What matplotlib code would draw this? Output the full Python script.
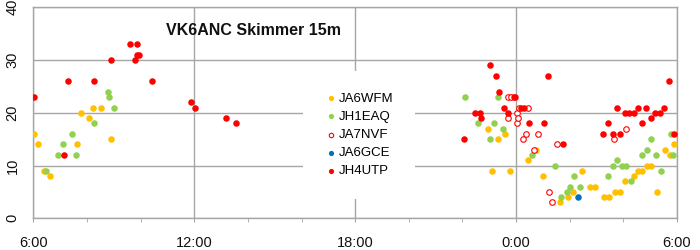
import matplotlib
matplotlib.use("Agg")
import matplotlib.pyplot as plt

plt.rcParams['font.family'] = ['Liberation Sans', 'DejaVu Sans']

# ---- data: times (HH:MM, from 6:00 through the night to 6:00) and SNR in dB ----
ja6wfm_t = ["6:02", "6:10", "6:24", "6:37", "7:37", "7:46", "8:05", "8:14", "8:31", "8:54",
            "22:57", "23:07", "23:19", "23:36", "23:47", "0:26", "0:44", "1:01", "1:38", "1:57",
            "2:07", "2:27", "2:46", "2:56", "3:17", "3:27", "3:41", "3:52", "4:04", "4:24",
            "4:32", "4:41", "4:52", "5:02", "5:15", "5:33", "5:44", "5:54"]
ja6wfm_v = [16, 14, 9, 8, 14, 20, 19, 21, 21, 15,
            17, 9, 15, 16, 9, 11, 13, 8, 3, 4,
            5, 9, 6, 6, 4, 4, 5, 5, 7, 8,
            9, 9, 10, 10, 5, 13, 12, 14]

jh1eaq_t = ["6:28", "6:56", "7:07", "7:26", "7:35", "8:16", "8:47", "8:49", "9:01",
            "22:05", "22:35", "23:01", "23:10", "23:20", "23:30", "0:35", "1:27", "1:41", "1:54",
            "2:01", "2:10", "2:23", "3:26", "3:37", "3:46", "3:57", "4:07", "4:16", "4:42",
            "4:52", "5:02", "5:12", "5:25", "5:46", "5:50"]
jh1eaq_v = [9, 12, 14, 16, 12, 18, 24, 23, 21,
            23, 18, 15, 18, 23, 17, 12, 10, 4, 5,
            6, 8, 6, 8, 10, 11, 10, 10, 7, 12,
            13, 15, 12, 9, 16, 12]

ja7nvf_t = ["23:42", "23:43", "23:49", "0:01", "0:03", "0:05", "0:07", "0:15", "0:22", "0:26",
            "0:40", "0:50", "1:14", "1:20", "1:31", "3:38", "4:05"]
ja7nvf_v = [19, 23, 23, 20, 18, 19, 21, 15, 16, 21,
            13, 16, 5, 3, 14, 15, 17]

ja6gce_t = ["2:19"]
ja6gce_v = [4]

jh4utp_t = ["6:02", "7:09", "7:18", "8:16", "8:53", "9:36", "9:47", "9:51", "9:53", "9:57",
            "10:25", "11:52", "12:01", "13:11", "13:33",
            "22:04", "22:28", "22:40", "22:42", "23:02", "23:14", "23:21", "23:32", "23:41", "23:55",
            "23:58", "0:12", "0:17", "0:28", "1:03", "1:12", "1:46", "3:14", "3:26", "3:37",
            "3:46", "3:52", "4:03", "4:13", "4:24", "4:33", "4:41", "4:50", "5:01", "5:11",
            "5:21", "5:31", "5:43", "5:53"]
jh4utp_v = [23, 12, 26, 26, 30, 33, 30, 33, 31, 31,
            26, 22, 21, 19, 18,
            15, 20, 20, 19, 29, 27, 24, 21, 20, 23,
            23, 21, 21, 18, 18, 27, 14, 16, 18, 16,
            21, 16, 20, 20, 20, 21, 18, 21, 19, 20,
            20, 21, 26, 16]

x_tick_labels = ["6:00", "12:00", "18:00", "0:00", "6:00"]
y_ticks = [0, 10, 20, 30, 40]
title = "VK6ANC Skimmer 15m"


def to_hours(times):
    out = []
    for s in times:
        h, m = s.split(":")
        out.append((int(h) + int(m) / 60.0 - 6.0) % 24.0)
    return out


fig = plt.figure(figsize=(7, 2.5), dpi=100)
ax = fig.add_axes([33.3 / 700, 31.7 / 250, 643.7 / 700, 211 / 250])

grid_c = "#a6a6a6"
ms = 22
ax.scatter(to_hours(ja6wfm_t), ja6wfm_v, s=ms, color="#FFC000", linewidths=0, label="JA6WFM", zorder=3)
ax.scatter(to_hours(jh1eaq_t), jh1eaq_v, s=ms, color="#92D050", linewidths=0, label="JH1EAQ", zorder=3)
ax.scatter(to_hours(ja7nvf_t), ja7nvf_v, s=16, facecolors="white", edgecolors="#FF0000",
           linewidths=0.8, label="JA7NVF", zorder=3)
ax.scatter(to_hours(ja6gce_t), ja6gce_v, s=ms, color="#0070C0", linewidths=0, label="JA6GCE", zorder=3)
ax.scatter(to_hours(jh4utp_t), jh4utp_v, s=ms, color="#FF0000", linewidths=0, label="JH4UTP", zorder=3)

ax.set_xlim(0, 24)
ax.set_ylim(0, 40)
ax.set_xticks([0, 6, 12, 18, 24])
ax.set_xticklabels(x_tick_labels)
ax.set_xticks([2, 4, 8, 10, 14, 16, 20, 22], minor=True)
ax.set_yticks(y_ticks)
ax.set_yticklabels([str(v) for v in y_ticks], rotation=90, va="center")

ax.grid(True, which="major", color=grid_c, linewidth=1.0, zorder=0)
ax.set_axisbelow(True)
for sp in ax.spines.values():
    sp.set_color(grid_c)
    sp.set_linewidth(1.0)

ax.tick_params(axis="x", which="both", direction="out", length=3, color=grid_c,
               labelsize=10.5, pad=10, labelcolor="#111111")
ax.tick_params(axis="y", which="both", length=0, labelsize=10.5, pad=10, labelcolor="#111111")

ax.text(0.342, 0.888, title, transform=ax.transAxes, ha="center", va="center",
        fontsize=11.5, fontweight="bold", color="#111111")

leg = ax.legend(loc="center", bbox_to_anchor=(0.506, 0.395), frameon=True, fontsize=9.5,
                handletextpad=0.1, labelspacing=0.45, borderpad=0.6, handlelength=1.0,
                markerscale=0.8, borderaxespad=0)
leg.get_frame().set_facecolor("white")
leg.get_frame().set_edgecolor("none")
leg.get_frame().set_alpha(1.0)
leg.get_frame().set_boxstyle("square", pad=1.0)

fig.savefig("out.png", dpi=100, facecolor="white")
